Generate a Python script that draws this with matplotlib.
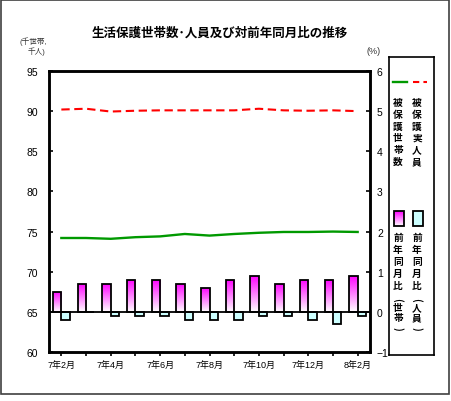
import numpy as np
import matplotlib
matplotlib.use('Agg')
from matplotlib import pyplot as plt
from matplotlib.patches import Rectangle
from matplotlib.colors import LinearSegmentedColormap
from matplotlib.lines import Line2D

plt.rcParams['font.family'] = ['Liberation Sans', 'Noto Sans CJK JP']

# data
months = ['7年2月', '7年3月', '7年4月', '7年5月', '7年6月', '7年7月', '7年8月',
          '7年9月', '7年10月', '7年11月', '7年12月', '8年1月', '8年2月']
setai = [74.2, 74.2, 74.1, 74.3, 74.4, 74.7, 74.5, 74.7, 74.85, 74.95, 74.95, 75.0, 74.95]
jinin = [90.2, 90.3, 89.95, 90.05, 90.1, 90.1, 90.1, 90.1, 90.3, 90.1, 90.05, 90.1, 90.0]
yoy_setai = [0.5, 0.7, 0.7, 0.8, 0.8, 0.7, 0.6, 0.8, 0.9, 0.7, 0.8, 0.8, 0.9]
yoy_jinin = [-0.2, 0.0, -0.1, -0.1, -0.1, -0.2, -0.2, -0.2, -0.1, -0.1, -0.2, -0.3, -0.1]
left_ticks = [60, 65, 70, 75, 80, 85, 90, 95]
right_ticks = [-1, 0, 1, 2, 3, 4, 5, 6]

W, H = 452, 402
fig = plt.figure(figsize=(W / 100, H / 100), dpi=100)

# outer frame
fig.patches.append(Rectangle((1 / W, 7 / H), 448 / W, 394 / H, transform=fig.transFigure,
                             fill=False, edgecolor='#404040', lw=1.2))

ax = fig.add_axes([49 / W, 49 / H, 321 / W, 281 / H])
ax2 = ax.twinx()
x = np.arange(len(months))

# lines on the left axis
ax.plot(x, setai, color='#009900', lw=1.7, zorder=3)
ax.plot(x, jinin, color='#ff0000', lw=1.5, dashes=(4, 2.2), zorder=3)

# bars on the right axis
mag = LinearSegmentedColormap.from_list('mag', ['#ffffff', '#ff00ff'])
grad = np.linspace(0, 1, 100).reshape(-1, 1)
w = 0.34
bars = ax2.bar(x - w / 2, yoy_setai, width=w, facecolor='none', edgecolor='k', lw=1.3, zorder=3)
for b in bars:
    im = ax2.imshow(grad, extent=[b.get_x(), b.get_x() + w, 0, b.get_height()], origin='lower',
                    aspect='auto', cmap=mag, zorder=2)
    im.set_clip_path(b)
ax2.bar(x + w / 2, yoy_jinin, width=w, facecolor='#ccffff', edgecolor='k', lw=1.3, zorder=3)
ax2.axhline(0, color='k', lw=1.3, zorder=4)

ax.set_xlim(-0.5, len(months) - 0.5)
ax2.set_xlim(-0.5, len(months) - 0.5)
ax.set_ylim(60, 95)
ax2.set_ylim(-1, 6)
ax.set_yticks(left_ticks)
ax2.set_yticks(right_ticks)
ax.set_xticks(x)
ax.set_xticklabels([m if i % 2 == 0 else '' for i, m in enumerate(months)], fontsize=6.5)
ax.tick_params(axis='x', direction='out', length=3, width=1.2, pad=3)
ax.tick_params(axis='y', direction='in', length=3, width=1.2, labelsize=7.5, pad=8)
ax2.tick_params(axis='y', direction='in', length=3, width=1.2, labelsize=7.5, pad=5)
for a in (ax, ax2):
    for s in a.spines.values():
        s.set_linewidth(1.8)

# title and units
fig.text(220 / W, 1 - 33 / H, '生活保護世帯数･人員及び対前年同月比の推移', ha='center', va='center',
         fontsize=9, fontweight='bold', family=['Noto Sans CJK JP', 'DejaVu Sans'])
fig.text(33 / W, 1 - 42 / H, '(千世帯,', ha='center', va='center', fontsize=5.5, color='#333333')
fig.text(36 / W, 1 - 52 / H, '千人)', ha='center', va='center', fontsize=5.5, color='#333333')
fig.text(374 / W, 1 - 51 / H, '(%)', ha='center', va='center', fontsize=6.5, color='#333333')

# legend box, drawn in pixel coords from its top-left corner
lx, ly, lw_, lh = 389, 58, 45, 298
lg = fig.add_axes([lx / W, 1 - (ly + lh) / H, lw_ / W, lh / H])
lg.set_xticks([])
lg.set_yticks([])
for s in lg.spines.values():
    s.set_linewidth(1.2)

lg.add_line(Line2D([4, 18], [25, 25], color='#009900', lw=1.7))
lg.add_line(Line2D([24, 38], [25, 25], color='#ff0000', lw=1.5, dashes=(3, 2)))


def vtext(cx, y0, chars, step):
    # one character per row; brackets turned to lie across the column
    y = y0
    for c in chars:
        rot = -90 if c in '()' else 0
        lg.text(cx, y, c, ha='center', va='center', fontsize=7, fontweight='bold', rotation=rot,
                family=['Noto Sans CJK JP', 'DejaVu Sans'])
        y += step[c] if isinstance(step, dict) else step


vtext(9, 45, '被保護世帯数', 11.8)
vtext(28, 45, '被保護実人員', 11.8)

sq_mag = Rectangle((5, 154), 10, 15, edgecolor='k', facecolor='none', lw=1.3, zorder=3)
lg.add_patch(sq_mag)
im = lg.imshow(grad[::-1], extent=[5, 15, 169, 154], aspect='auto', cmap=mag, zorder=1)
im.set_clip_path(sq_mag)
lg.add_patch(Rectangle((24, 154), 10, 15, edgecolor='k', facecolor='#ccffff', lw=1.3))
lg.set_xlim(0, lw_)
lg.set_ylim(lh, 0)

steps = {'前': 12, '年': 12, '同': 12, '月': 12, '比': 13.5, '(': 9,
         '世': 10, '人': 10, '帯': 10, '員': 10, ')': 10}
vtext(9, 180, '前年同月比(世帯)', steps)
vtext(28, 180, '前年同月比(人員)', steps)

fig.savefig('out.png', dpi=100)
